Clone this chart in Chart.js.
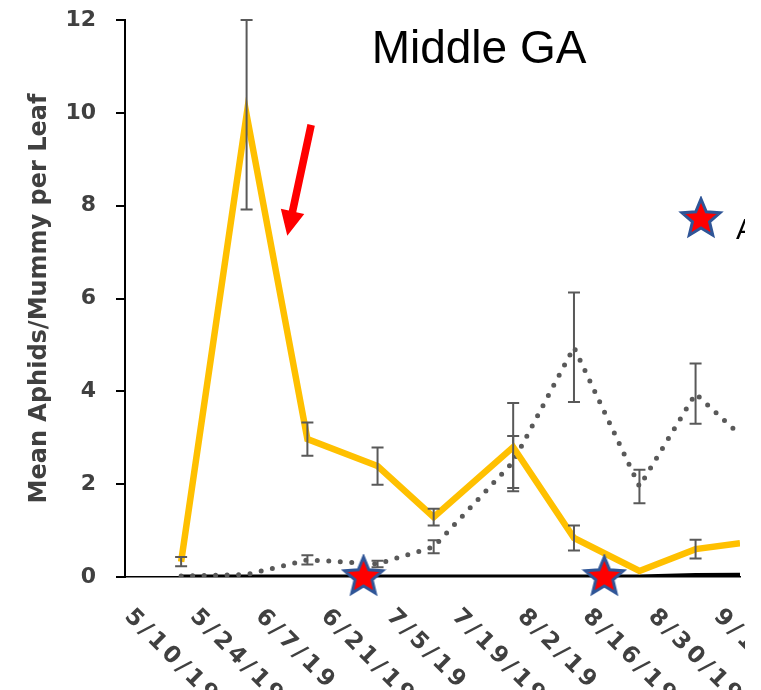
<!DOCTYPE html>
<html lang="en">
<head>
    <meta charset="UTF-8">
    <title>Middle GA</title>
    <style>
        body { margin: 0; background: #fff; }
        #wrap { position: relative; width: 745px; height: 690px; }
    </style>
</head>
<body>
    <div id="wrap"><canvas id="chart"></canvas></div>

    <script src="https://cdn.jsdelivr.net/npm/chart.js"></script>
    <script>
        // days counted from 5/10/19
        const tickDays = [0, 14, 28, 42, 56, 70, 84, 98, 112, 126];
        const tickLabels = ['5/10/19', '5/24/19', '6/7/19', '6/21/19', '7/5/19', '7/19/19', '8/2/19', '8/16/19', '8/30/19', '9/13/19'];
        const sampleDays = [12, 26, 39, 54, 66, 83, 96, 110, 122, 131.5];
        const aphidMean = [0.33, 9.96, 2.97, 2.39, 1.29, 2.8, 0.84, 0.13, 0.6, 0.73];
        const aphidErr = [0.1, 2.04, 0.36, 0.4, 0.18, 0.95, 0.27, 0, 0.2, null];
        const mummyMean = [0.02, 0.05, 0.37, 0.28, 0.65, 2.48, 4.95, 1.95, 3.95, 3.06];
        const mummyErr = [0, 0, 0.1, 0.07, 0.14, 0.56, 1.18, 0.36, 0.65, null];
        const otherMean = [0, 0, 0, 0, 0, 0, 0, 0, 0.03, 0.04];
        const sprayDays = [51, 102.5];
        const sprayLevel = [0, 0];
        const xMax = 131.5;

        const arrowFrom = { x: 39.8, y: 9.74 };
        const arrowTo = { x: 34.7, y: 7.35 };

        const textGray = '#404040';
        const barGray = '#595959';

        function makeStar(R, r) {
            const size = 2 * R + 6;
            const c = document.createElement('canvas');
            c.width = size; c.height = size;
            const g = c.getContext('2d');
            g.translate(size / 2, size / 2);
            g.beginPath();
            for (let i = 0; i < 10; i++) {
                const rad = i % 2 ? r : R;
                const a = -Math.PI / 2 + i * Math.PI / 5;
                g.lineTo(rad * Math.cos(a), rad * Math.sin(a));
            }
            g.closePath();
            g.fillStyle = '#FF0000';
            g.fill();
            g.lineWidth = 3;
            g.lineJoin = 'miter';
            g.strokeStyle = '#2F5597';
            g.stroke();
            return c;
        }
        const star = makeStar(20, 9);

        const errorSets = { 1: aphidErr, 2: mummyErr };

        const overlay = {
            id: 'overlay',
            afterDatasetDraw(chart, args) {
                const errs = errorSets[args.index];
                if (!errs) return;
                const ctx = chart.ctx;
                const y = chart.scales.y;
                const vals = chart.data.datasets[args.index].data;
                ctx.save();
                ctx.strokeStyle = barGray;
                ctx.lineWidth = 2;
                args.meta.data.forEach((pt, i) => {
                    if (!errs[i]) return;
                    const top = y.getPixelForValue(vals[i].y + errs[i]);
                    const bot = y.getPixelForValue(vals[i].y - errs[i]);
                    ctx.beginPath();
                    ctx.moveTo(pt.x, top); ctx.lineTo(pt.x, bot);
                    ctx.moveTo(pt.x - 6, top); ctx.lineTo(pt.x + 6, top);
                    ctx.moveTo(pt.x - 6, bot); ctx.lineTo(pt.x + 6, bot);
                    ctx.stroke();
                });
                ctx.restore();
            },
            afterDraw(chart) {
                const ctx = chart.ctx;
                const x = chart.scales.x;
                const y = chart.scales.y;
                const area = chart.chartArea;

                // rotated date labels
                ctx.save();
                ctx.fillStyle = textGray;
                ctx.font = 'bold 23px "DejaVu Sans"';
                ctx.letterSpacing = '4px';
                ctx.textAlign = 'left';
                ctx.textBaseline = 'middle';
                tickDays.forEach((d, i) => {
                    ctx.save();
                    ctx.translate(x.getPixelForValue(d) + 3, area.bottom + 36);
                    ctx.rotate(Math.PI / 4);
                    ctx.fillText(tickLabels[i], 0, 0);
                    ctx.restore();
                });
                ctx.restore();

                // red arrow
                const x1 = x.getPixelForValue(arrowFrom.x), y1 = y.getPixelForValue(arrowFrom.y);
                const x2 = x.getPixelForValue(arrowTo.x), y2 = y.getPixelForValue(arrowTo.y);
                const len = Math.hypot(x2 - x1, y2 - y1);
                const ux = (x2 - x1) / len, uy = (y2 - y1) / len;
                const px = -uy, py = ux;
                const head = 25, hw = 12, sw = 3.8;
                const bx = x2 - ux * head, by = y2 - uy * head;
                ctx.save();
                ctx.fillStyle = '#FF0000';
                ctx.beginPath();
                ctx.moveTo(x1 + px * sw, y1 + py * sw);
                ctx.lineTo(bx + px * sw, by + py * sw);
                ctx.lineTo(bx + px * hw, by + py * hw);
                ctx.lineTo(x2, y2);
                ctx.lineTo(bx - px * hw, by - py * hw);
                ctx.lineTo(bx - px * sw, by - py * sw);
                ctx.lineTo(x1 - px * sw, y1 - py * sw);
                ctx.closePath();
                ctx.fill();
                ctx.restore();

                // title
                ctx.save();
                ctx.fillStyle = '#000';
                ctx.font = '46px "Liberation Sans", Arial, sans-serif';
                ctx.textAlign = 'center';
                ctx.textBaseline = 'alphabetic';
                ctx.fillText('Middle GA', area.left + 354, area.top + 43);

                // legend entry for spray dates
                const lx = area.right - 39, ly = area.top + 199;
                ctx.drawImage(star, lx - star.width / 2, ly - star.height / 2);
                ctx.font = '29px "Liberation Sans", Arial, sans-serif';
                ctx.textAlign = 'left';
                ctx.fillText('Application', lx + 35, ly + 20);
                ctx.restore();
            }
        };

        const pts = arr => arr.map((v, i) => ({ x: sampleDays[i], y: v }));

        new Chart(document.getElementById('chart'), {
            type: 'line',
            data: {
                datasets: [
                    {
                        type: 'scatter',
                        label: 'Spray',
                        data: sprayDays.map((d, i) => ({ x: d, y: sprayLevel[i] })),
                        pointStyle: star,
                        clip: false
                    },
                    {
                        label: 'Aphids',
                        data: pts(aphidMean),
                        borderColor: '#FFC000',
                        borderWidth: 6.5,
                        borderJoinStyle: 'miter',
                        pointRadius: 0,
                        tension: 0
                    },
                    {
                        label: 'Mummies',
                        data: pts(mummyMean),
                        borderColor: barGray,
                        borderWidth: 5,
                        borderDash: [0, 11.5],
                        borderCapStyle: 'round',
                        pointRadius: 0,
                        tension: 0
                    },
                    {
                        label: 'Other',
                        data: pts(otherMean),
                        borderColor: '#000',
                        borderWidth: 5,
                        pointRadius: 0,
                        tension: 0
                    }
                ]
            },
            options: {
                responsive: true,
                maintainAspectRatio: false,
                devicePixelRatio: 1,
                animation: false,
                layout: { padding: { top: 20, right: 0, bottom: 113, left: 0 } },
                plugins: { legend: { display: false }, tooltip: { enabled: false } },
                scales: {
                    x: {
                        type: 'linear',
                        min: 0,
                        max: xMax,
                        ticks: { display: false, stepSize: 14 },
                        grid: { display: true, drawOnChartArea: false, drawTicks: false },
                        border: { display: true, color: '#000', width: 1.5 }
                    },
                    y: {
                        min: 0,
                        max: 12,
                        afterFit(scale) {
                            scale.width = 125;
                            scale.paddingTop = 0;
                            scale.paddingBottom = 0;
                        },
                        ticks: {
                            stepSize: 2,
                            padding: 20,
                            color: textGray,
                            font: { family: 'DejaVu Sans', weight: 'bold', size: 22 }
                        },
                        grid: { drawOnChartArea: false, drawTicks: true, tickLength: 9, color: '#000', lineWidth: 2 },
                        border: { display: true, color: '#000', width: 2 },
                        title: {
                            display: true,
                            text: 'Mean Aphids/Mummy per Leaf',
                            color: textGray,
                            padding: { top: 25, bottom: 0 },
                            font: { family: 'DejaVu Sans', weight: 'bold', size: 24 }
                        }
                    }
                }
            },
            plugins: [overlay]
        });
    </script>
</body>
</html>
